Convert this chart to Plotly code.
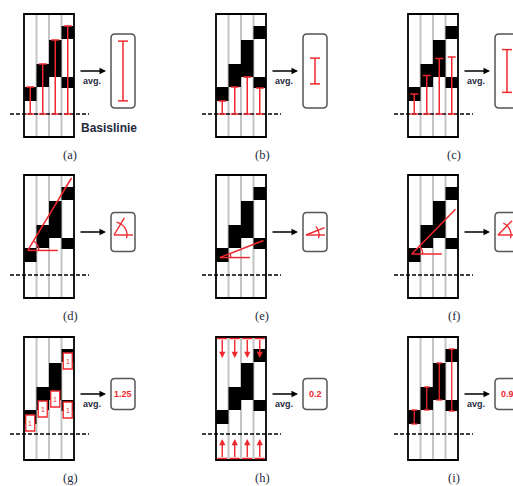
import math
import numpy as np
import plotly.graph_objects as go

# ---------------- data ----------------
col_index = [0, 1, 2, 3, 3]          # column of each black block
block_lo = [13, 27, 37, 75, 26]      # lower edge of each block (above baseline)
block_hi = [27, 50, 74, 88, 37]      # upper edge of each block
n_cols = 4
panel_labels = ["(a)", "(b)", "(c)", "(d)", "(e)", "(f)", "(g)", "(h)", "(i)"]
block_counts = ["1", "1", "1", "1", "1"]
result_values = ["1.25", "0.2", "0.9"]
baseline_value = [0, 0, 3]
frame_bottom, frame_top = -23, 100

# ---------------- layout constants ----------------
W, H = 513, 486
PX_COL = 12.5      # pixels per column unit
PX_VAL = 1.0       # pixels per value unit
LEFT = [24, 216, 408]
TOP = [14, 175, 337]
RED = '#f0282e'
INK = '#262a3c'
GRID = '#c4c4c4'

col_tops = [max(h for ci, h in zip(col_index, block_hi) if ci == c) for c in range(n_cols)]
col_bottoms = [min(l for ci, l in zip(col_index, block_lo) if ci == c) for c in range(n_cols)]
col_mids = [(t + b) / 2 for t, b in zip(col_tops, col_bottoms)]
row1_measures = [col_tops, col_bottoms, col_mids]

fig = go.Figure()
shapes, annos = [], []


def refs(n):
    return ('x', 'y') if n == 1 else (f'x{n}', f'y{n}')


def add_line(n, x0, y0, x1, y1, color='black', width=1.5, dash=None):
    xr, yr = refs(n)
    ln = dict(color=color, width=width)
    if dash:
        ln['dash'] = dash
    shapes.append(dict(type='line', xref=xr, yref=yr, x0=x0, y0=y0, x1=x1, y1=y1,
                       line=ln, layer='above'))


def add_rect(n, x0, y0, x1, y1, fill='rgba(0,0,0,0)', color='rgba(0,0,0,0)', width=0):
    xr, yr = refs(n)
    shapes.append(dict(type='rect', xref=xr, yref=yr, x0=x0, y0=y0, x1=x1, y1=y1,
                       fillcolor=fill, line=dict(color=color, width=width), layer='above'))


def add_path(n, path, color, width, fill='rgba(0,0,0,0)'):
    xr, yr = refs(n)
    shapes.append(dict(type='path', xref=xr, yref=yr, path=path, fillcolor=fill,
                       line=dict(color=color, width=width), layer='above'))


def add_text(n, x, y, text, size, color, family='Liberation Sans'):
    xr, yr = refs(n)
    annos.append(dict(x=x, y=y, xref=xr, yref=yr, text=text, showarrow=False,
                      font=dict(size=size, color=color, family=family),
                      xanchor='center', yanchor='middle'))


def add_arrow(n, xt, yt, xh, yh, color='black', width=1.3, size=1.0):
    xr, yr = refs(n)
    annos.append(dict(x=xh, y=yh, ax=xt, ay=yt, xref=xr, yref=yr, axref=xr, ayref=yr,
                      text='', showarrow=True, arrowhead=2, arrowsize=size,
                      arrowwidth=width, arrowcolor=color))


def ibeam(n, x, y0, y1, half_px, color=RED, width=1.5):
    h = half_px / PX_COL
    add_line(n, x, y0, x, y1, color, width)
    add_line(n, x - h, y0, x + h, y0, color, width)
    add_line(n, x - h, y1, x + h, y1, color, width)


def rounded(n, x0, x1, y0, y1, rpx=4, color='#555555', width=1.5):
    rx, ry = rpx / PX_COL, rpx / PX_VAL
    p = (f"M {x0+rx},{y1} L {x1-rx},{y1} Q {x1},{y1} {x1},{y1-ry} "
         f"L {x1},{y0+ry} Q {x1},{y0} {x1-rx},{y0} L {x0+rx},{y0} "
         f"Q {x0},{y0} {x0},{y0+ry} L {x0},{y1-ry} Q {x0},{y1} {x0+rx},{y1} Z")
    add_path(n, p, color, width)


def arc(n, xc, yc, rpx, a0, a1, color=RED, width=1.3):
    ts = np.linspace(a0, a1, 16)
    pts = [(xc + rpx * math.cos(t) / PX_COL, yc + rpx * math.sin(t) / PX_VAL) for t in ts]
    p = "M " + " L ".join(f"{x},{y}" for x, y in pts)
    add_path(n, p, color, width)


def px_x(px):
    return px / PX_COL - 0.5


# common positions (panel-local)
res_x0, res_x1 = px_x(87), px_x(111)
res_xc = (res_x0 + res_x1) / 2
res_h = [74, 39, 31]
mid_y = 43
arrow_x0, arrow_x1 = px_x(55), px_x(82)

layout_axes = {}
for r in range(3):
    for c in range(3):
        n = r * 3 + c + 1
        L, T = LEFT[c], TOP[r]
        px0, px1 = L - 22, min(L + 150, W)
        py0, py1 = max(T - 12, 0), min(T + 152, H)
        xr_ = [(px0 - L) / PX_COL - 0.5, (px1 - L) / PX_COL - 0.5]
        yr_ = [frame_top - (py1 - T) / PX_VAL, frame_top - (py0 - T) / PX_VAL]
        sx = '' if n == 1 else str(n)
        layout_axes[f'xaxis{sx}'] = dict(domain=[px0 / W, px1 / W], range=xr_, visible=False,
                                         fixedrange=True, anchor=f'y{sx}')
        layout_axes[f'yaxis{sx}'] = dict(domain=[1 - py1 / H, 1 - py0 / H], range=yr_, visible=False,
                                         fixedrange=True, anchor=f'x{sx}')
        fig.add_trace(go.Scatter(x=[None], y=[None], xaxis=f'x{sx}', yaxis=f'y{sx}',
                                 showlegend=False, hoverinfo='skip'))

        # column separators
        for k in range(1, n_cols):
            add_line(n, k - 0.5, frame_bottom, k - 0.5, frame_top, GRID, 2)
        # black blocks
        for ci, lo, hi in zip(col_index, block_lo, block_hi):
            add_rect(n, ci - 0.5, lo, ci + 0.5, hi, fill='black')
        # dashed baseline
        b = baseline_value[r]
        add_line(n, px_x(-14), b, px_x(65), b, 'black', 1.5, dash='4px,2px')
        # frame
        add_rect(n, -0.5, frame_bottom, n_cols - 0.5, frame_top, color='black', width=1.8)
        # arrow
        add_arrow(n, arrow_x0, mid_y, arrow_x1, mid_y)
        if r != 1:
            add_text(n, px_x(68), 33, '<b>avg.</b>', 9, INK)
        # panel label
        add_text(n, px_x(46), -41, panel_labels[n - 1], 12.5, INK, 'Liberation Serif')

        # result box
        hh = res_h[r] / 2
        rounded(n, res_x0, res_x1, mid_y - hh, mid_y + hh)

        if r == 0:
            meas = row1_measures[c]
            for k, m in enumerate(meas):
                ibeam(n, k, b, m, 4)
            avg = float(np.mean(meas))
            ibeam(n, res_xc, mid_y - avg / 2, mid_y + avg / 2, 5)
            if c == 0:
                add_text(n, px_x(85), -14, '<b>Basislinie</b>', 12, INK)
        elif r == 1:
            meas = row1_measures[c]
            slope, icpt = np.polyfit(np.arange(n_cols), meas, 1)
            xs, xe = -0.2, 3.3
            ys, ye = icpt + slope * xs, icpt + slope * xe
            add_line(n, xs, ys, xe, ye, RED, 1.5)
            add_line(n, xs, ys, xs + 30 / PX_COL, ys, RED, 1.5)
            theta = math.atan(slope * PX_VAL / PX_COL)
            arc(n, xs, ys, 11, 0, theta)
            # icon in result box
            vx, vy = res_x0 + 3 / PX_COL, 40
            add_line(n, vx, vy, res_x1 - 2 / PX_COL, vy, RED, 1.4)
            ln = 20
            add_line(n, vx, vy, vx + ln * math.cos(theta) / PX_COL, vy + ln * math.sin(theta), RED, 1.4)
            arc(n, vx, vy, 13, -0.25, theta + 0.35)
        else:
            if c == 0:
                for ci, lo, lab in zip(col_index, block_lo, block_counts):
                    hw = 4.5 / PX_COL
                    add_rect(n, ci - hw, lo - 7, ci + hw, lo + 9, fill='white', color=RED, width=1.3)
                    add_text(n, ci, lo + 1, lab, 7, RED)
            elif c == 1:
                for k in range(n_cols):
                    h = 5 / PX_COL
                    add_line(n, k - h, 98.5, k + h, 98.5, RED, 1.5)
                    add_arrow(n, k, 98.5, k, 79, RED, 1.4, 0.9)
                    add_line(n, k - h, -21.5, k + h, -21.5, RED, 1.5)
                    add_arrow(n, k, -21.5, k, -2, RED, 1.4, 0.9)
            else:
                for k in range(n_cols):
                    ibeam(n, k, col_bottoms[k], col_tops[k], 3, RED, 1.3)
            add_text(n, res_xc, mid_y, f'<b>{result_values[c]}</b>', 9, RED)

fig.update_layout(
    width=W, height=H, autosize=False,
    margin=dict(l=0, r=0, t=0, b=0),
    paper_bgcolor='white', plot_bgcolor='rgba(0,0,0,0)',
    shapes=shapes, annotations=annos, showlegend=False,
    **layout_axes
)
fig.write_html("out.html", config={'displayModeBar': False},
               post_script="document.body.style.margin='0';document.body.style.overflow='hidden';")
